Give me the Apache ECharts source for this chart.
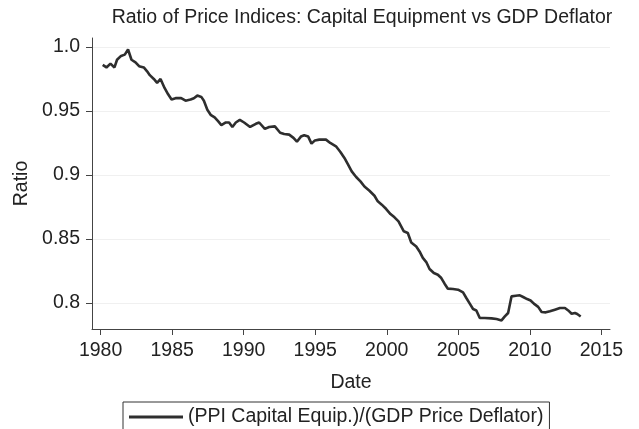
<!DOCTYPE html>
<html>
<head>
<meta charset="utf-8">
<script src="https://cdn.jsdelivr.net/npm/echarts@6/dist/echarts.min.js"></script>
<style>html,body{margin:0;padding:0;background:#fff}#c{width:639px;height:429px}</style>
</head>
<body>
<div id="c"></div>
<script>
var titleText = "Ratio of Price Indices: Capital Equipment vs GDP Deflator";
var seriesName = "(PPI Capital Equip.)/(GDP Price Deflator)";
var xTicks = [1980, 1985, 1990, 1995, 2000, 2005, 2010, 2015];
var yTicks = [0.8, 0.85, 0.9, 0.95, 1.0];
var dates = [1980.15,1980.41,1980.69,1980.97,1981.15,1981.43,1981.69,1981.92,1982.16,1982.44,1982.69,1983.02,1983.25,1983.44,1983.72,1983.95,1984.19,1984.47,1984.72,1984.96,1985.24,1985.63,1985.94,1986.29,1986.52,1986.76,1987.04,1987.22,
1987.46,1987.69,1987.97,1988.21,1988.44,1988.75,1988.98,1989.21,1989.45,1989.73,1990.03,1990.45,1990.85,1991.08,1991.48,1991.78,1992.18,1992.55,1992.83,1993.18,1993.48,1993.72,1994.00,1994.23,
1994.51,1994.74,1994.98,1995.28,1995.75,1996.05,1996.45,1996.76,1997.04,1997.27,1997.55,1997.86,1998.16,1998.44,1998.79,1999.14,1999.37,1999.65,1999.96,2000.26,2000.54,2000.82,
2001.19,2001.47,2001.71,2002.06,2002.29,2002.52,2002.76,2002.99,2003.29,2003.57,2003.81,2004.04,2004.27,2004.63,2004.98,2005.33,2005.56,2005.80,2006.03,2006.26,2006.50,2006.85,2007.32,2007.67,
2008.02,2008.25,2008.48,2008.72,2009.02,2009.30,2009.53,2009.81,2010.05,2010.28,2010.58,2010.82,2011.12,2011.40,2011.75,2012.10,2012.45,2012.68,2012.92,2013.15,2013.31,2013.55];
var ratios = [0.986,0.984,0.987,0.984,0.990,0.993,0.994,0.998,0.990,0.988,0.985,0.984,0.981,0.978,0.975,0.972,0.975,0.968,0.963,0.959,0.960,0.960,0.958,0.959,0.960,0.962,0.961,0.958,
0.951,0.947,0.945,0.942,0.939,0.941,0.941,0.9375,0.941,0.943,0.941,0.9375,0.940,0.941,0.936,0.9375,0.938,0.933,0.932,0.9315,0.929,0.926,0.930,0.931,
0.930,0.9245,0.927,0.9276,0.9276,0.925,0.9224,0.918,0.9133,0.9086,0.9028,0.8984,0.895,0.891,0.8877,0.8838,0.8794,0.8768,0.8734,0.8695,0.8669,0.8638,
0.856,0.8547,0.8473,0.8442,0.8403,0.8352,0.832,0.8266,0.8234,0.8221,0.8195,0.8151,0.8112,0.811,0.8104,0.8083,0.8039,0.7995,0.7953,0.7942,0.7883,0.7883,0.788,0.7875,
0.7864,0.7895,0.7922,0.8052,0.8057,0.806,0.8047,0.8031,0.802,0.7995,0.797,0.793,0.7927,0.7935,0.7948,0.7961,0.7961,0.7942,0.7916,0.7922,0.7914,0.7895];

var data = dates.map(function(d, i){ return [d, ratios[i]]; });
var font = "'Liberation Sans', Arial, Helvetica, sans-serif";
var txt = '#222';
var fs = 19.5;
var chart = echarts.init(document.getElementById('c'), null, {renderer: 'canvas'});
chart.setOption({
  animation: false,
  backgroundColor: '#fff',
  title: {
    text: titleText, left: 357, top: 3, textAlign: 'center',
    textStyle: {fontFamily: font, fontSize: fs, fontWeight: 'normal', color: txt}
  },
  legend: {
    data: [seriesName],
    left: 123, top: 402,
    padding: [5, 6, 10, 6],
    borderColor: '#333', borderWidth: 1,
    itemWidth: 54, itemHeight: 3, itemGap: 6,
    icon: 'rect',
    textStyle: {fontFamily: font, fontSize: fs, color: txt}
  },
  grid: {left: 92, right: 29, top: 38, bottom: 100, containLabel: false},
  xAxis: {
    type: 'value', min: 1979.4, max: 2015.6,
    name: 'Date', nameLocation: 'middle', nameGap: 44,
    nameTextStyle: {fontFamily: font, fontSize: fs, color: txt},
    axisLine: {show: true, lineStyle: {color: '#444', width: 1}},
    axisTick: {show: true, length: 6, inside: false, customValues: xTicks, lineStyle: {color: '#444'}},
    axisLabel: {customValues: xTicks, fontFamily: font, fontSize: fs, color: txt, margin: 12, formatter: function(v){return String(Math.round(v));}},
    splitLine: {show: false}
  },
  yAxis: {
    type: 'value', min: 0.7797, max: 1.007,
    name: 'Ratio', nameLocation: 'middle', nameGap: 60, nameRotate: 90,
    nameTextStyle: {fontFamily: font, fontSize: fs, color: txt},
    axisLine: {show: true, lineStyle: {color: '#444', width: 1}},
    axisTick: {show: true, length: 6, customValues: yTicks, lineStyle: {color: '#444'}},
    axisLabel: {customValues: yTicks, fontFamily: font, fontSize: fs, color: txt, margin: 12,
      formatter: function(v){ var r = Math.round(v*100)/100; return r === 1 ? '1.0' : String(r); }},
    splitLine: {show: true, lineStyle: {color: '#f0f0f0', width: 1}}
  },
  series: [{
    name: seriesName, type: 'line', data: data,
    showSymbol: false, symbol: 'none',
    lineStyle: {color: '#2e2e2e', width: 2.6},
    itemStyle: {color: '#2e2e2e'}
  }]
});
</script>
</body>
</html>
